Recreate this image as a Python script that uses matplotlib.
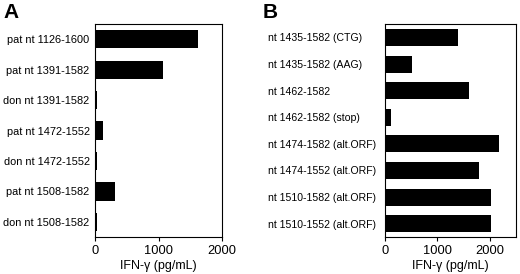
import matplotlib
matplotlib.use("Agg")
import matplotlib.pyplot as plt

plt.rcParams['font.family'] = ['Liberation Sans', 'DejaVu Sans']

# panel A
labels_a = ["pat nt 1126-1600", "pat nt 1391-1582", "don nt 1391-1582",
            "pat nt 1472-1552", "don nt 1472-1552", "pat nt 1508-1582",
            "don nt 1508-1582"]
values_a = [1620, 1075, 25, 125, 25, 310, 25]

# panel B
labels_b = ["nt 1435-1582 (CTG)", "nt 1435-1582 (AAG)", "nt 1462-1582",
            "nt 1462-1582 (stop)", "nt 1474-1582 (alt.ORF)",
            "nt 1474-1552 (alt.ORF)", "nt 1510-1582 (alt.ORF)",
            "nt 1510-1552 (alt.ORF)"]
values_b = [1400, 520, 1600, 120, 2170, 1800, 2030, 2020]

fig = plt.figure(figsize=(5.2, 2.74), dpi=100)
axA = fig.add_axes([0.183, 0.135, 0.244, 0.777])
axB = fig.add_axes([0.740, 0.135, 0.252, 0.777])

def draw(ax, labels, values, xmax, h, ha="right", pad=4, fs=7.9):
    y = range(len(labels))
    ax.barh(y, values, height=h, color="black")
    ax.set_yticks(list(y))
    ax.set_yticklabels(labels, fontsize=fs, ha=ha)
    ax.set_ylim(len(labels) - 0.5, -0.5)
    ax.set_xlim(0, xmax)
    ax.set_xticks([0, 1000, 2000])
    ax.tick_params(axis="x", labelsize=9.3, length=3, width=0.8, pad=3)
    ax.tick_params(axis="y", length=0, pad=pad)
    ax.set_xlabel("IFN-γ (pg/mL)", fontsize=9, labelpad=2)
    for s in ax.spines.values():
        s.set_linewidth(0.8)

draw(axA, labels_a, values_a, 2000, 0.6)
# panel B labels start at a common left edge
draw(axB, labels_b, values_b, 2500, 0.64, ha="left", pad=84, fs=7.6)

fig.text(0.006, 0.99, "A", fontsize=15, fontweight="bold", va="top")
fig.text(0.506, 0.99, "B", fontsize=15, fontweight="bold", va="top")

fig.savefig("out.png", dpi=100)
